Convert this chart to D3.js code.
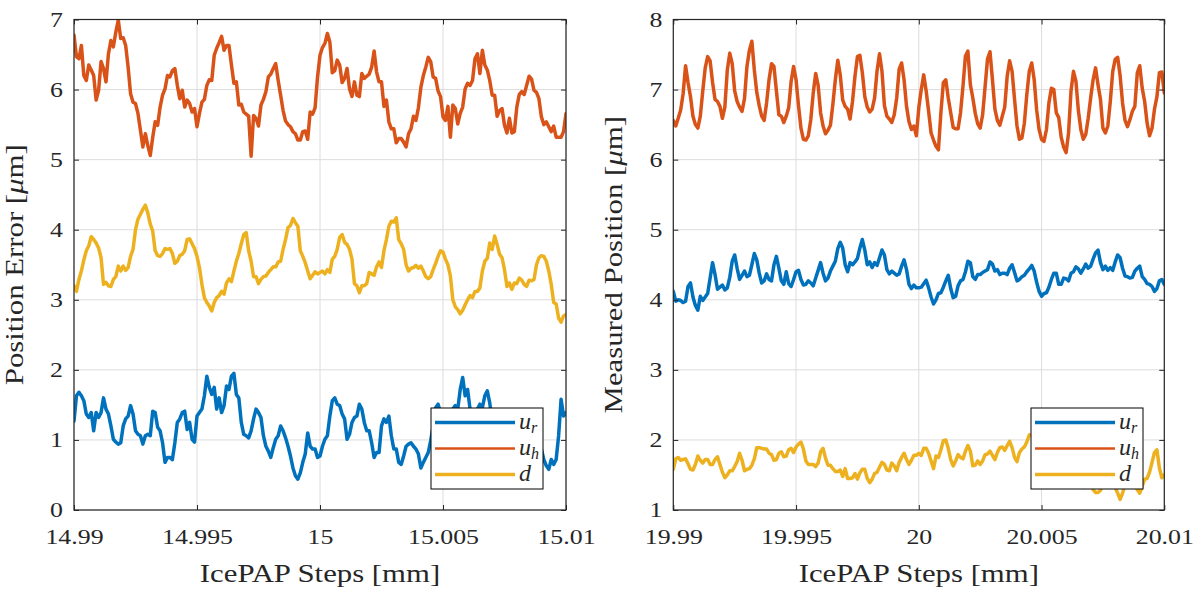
<!DOCTYPE html>
<html>
<head>
<meta charset="utf-8">
<script src="https://cdn.jsdelivr.net/npm/d3@7"></script>
<style>
  html, body { margin: 0; padding: 0; background: #fff; }
  svg text { font-family: "Liberation Serif", "Times New Roman", serif; fill: #262626; }
</style>
</head>
<body>
<svg id="chart" width="1203" height="596"></svg>
<script>
// ---------------- DATA ----------------
const seriesNames = ["u_r", "u_h", "d"];
const seriesColors = ["#0072BD", "#D95319", "#EDB120"];
const sampleStep = 0.0001; // mm between samples

// Left panel: Position Error [um] vs IcePAP Steps [mm]
const leftStart = 14.99;
const leftXTicks = [14.99, 14.995, 15, 15.005, 15.01];
const leftXTickLabels = ["14.99", "14.995", "15", "15.005", "15.01"];
const leftYTicks = [0, 1, 2, 3, 4, 5, 6, 7];
const leftUr = [1.27,1.63,1.68,1.63,1.56,1.37,1.32,1.39,1.13,1.39,1.32,1.39,1.60,1.44,1.37,1.20,1.01,0.97,0.94,0.96,
1.20,1.30,1.34,1.49,1.37,1.13,1.08,1.06,0.94,1.06,1.08,1.06,1.41,1.39,1.18,1.13,0.96,0.68,0.75,0.75,
0.72,0.96,1.25,1.30,1.39,1.41,1.15,1.25,1.01,0.97,1.34,1.39,1.44,1.63,1.91,1.75,1.65,1.75,1.44,1.60,
1.39,1.49,1.77,1.72,1.91,1.95,1.65,1.60,1.25,1.08,1.06,1.03,1.13,1.30,1.44,1.39,1.32,1.06,0.91,0.84,
0.75,0.89,1.01,1.06,1.20,1.13,1.03,0.91,0.77,0.60,0.49,0.44,0.53,0.68,0.80,1.10,0.91,0.87,0.87,0.75,
0.77,0.91,1.01,1.06,1.34,1.56,1.60,1.51,1.49,1.37,1.30,1.01,1.08,1.25,1.32,1.34,1.51,1.44,1.25,1.13,
1.13,0.96,0.75,0.82,0.82,1.20,1.30,1.25,1.34,1.06,0.87,0.87,0.68,0.65,0.77,0.91,0.94,0.96,0.91,0.87,
0.80,0.60,0.68,0.75,0.82,0.99,1.20,1.46,1.51,1.39,1.25,1.15,1.25,1.34,1.44,1.49,1.44,1.72,1.89,1.63,
1.72,1.44,1.25,1.34,1.44,1.51,1.46,1.63,1.70,1.53,1.25,1.06,0.96,1.06,1.15,1.06,0.87,0.77,0.87,1.01,
1.06,0.96,0.82,0.87,0.96,0.99,0.91,0.82,0.87,0.91,0.87,0.72,0.63,0.58,0.72,0.65,0.72,1.06,1.58,1.34,1.39];
const leftUh = [6.78,6.47,6.44,6.63,6.20,6.13,6.35,6.28,6.20,5.85,5.99,6.40,6.30,6.11,6.51,6.70,6.61,6.82,6.99,6.73,
6.74,6.63,6.32,5.94,5.82,5.80,5.66,5.42,5.18,5.37,5.20,5.06,5.32,5.54,5.49,5.75,5.92,6.01,6.20,6.18,
6.27,6.30,6.06,5.87,5.99,5.75,5.85,5.80,5.68,5.73,5.47,5.66,5.82,5.86,6.06,6.14,6.13,6.49,6.59,6.67,
6.76,6.56,6.63,6.63,6.35,6.09,6.11,5.78,5.79,5.68,5.65,5.62,5.05,5.63,5.59,5.48,5.78,5.86,5.97,6.18,
6.22,6.30,6.37,6.13,5.92,5.70,5.55,5.50,5.47,5.40,5.37,5.28,5.28,5.40,5.41,5.29,5.68,5.65,5.74,6.18,
6.49,6.60,6.66,6.80,6.68,6.24,6.27,6.42,6.35,6.10,6.16,6.30,6.01,5.90,6.11,5.92,5.90,6.23,6.16,6.19,
6.22,6.32,6.55,6.25,6.11,6.11,5.76,5.85,5.54,5.44,5.44,5.24,5.30,5.30,5.25,5.18,5.37,5.44,5.62,5.56,
5.74,6.03,6.20,6.32,6.46,6.40,6.18,6.16,5.98,5.90,5.61,5.56,5.76,5.32,5.78,5.73,5.51,5.66,5.75,6.01,
6.09,6.06,6.13,6.44,6.51,6.23,6.56,6.35,6.28,6.13,5.92,5.92,5.62,5.70,5.73,5.49,5.38,5.59,5.38,5.40,
5.75,5.93,5.97,5.93,6.06,6.19,6.15,5.99,5.96,5.87,5.61,5.50,5.54,5.47,5.40,5.48,5.32,5.32,5.32,5.40,5.66];
const leftD = [3.20,3.12,3.29,3.41,3.57,3.70,3.77,3.90,3.86,3.81,3.74,3.60,3.22,3.25,3.20,3.19,3.29,3.33,3.48,3.41,
3.48,3.42,3.46,3.62,3.72,4.00,4.15,4.22,4.29,4.35,4.24,4.08,3.98,3.70,3.63,3.62,3.66,3.73,3.72,3.73,
3.66,3.52,3.55,3.63,3.65,3.70,3.86,3.87,3.80,3.73,3.62,3.46,3.22,3.03,2.96,2.91,2.84,2.96,3.03,3.06,
3.12,3.08,3.24,3.30,3.26,3.41,3.55,3.66,3.80,3.93,3.96,3.70,3.55,3.33,3.33,3.23,3.29,3.33,3.34,3.39,
3.43,3.47,3.47,3.54,3.55,3.72,3.86,4.03,4.06,4.16,4.10,4.05,3.70,3.62,3.53,3.41,3.30,3.35,3.40,3.37,
3.39,3.41,3.37,3.43,3.39,3.58,3.62,3.72,3.89,3.93,3.82,3.79,3.72,3.58,3.23,3.20,3.10,3.20,3.20,3.23,
3.39,3.37,3.35,3.47,3.54,3.46,3.70,3.86,4.05,4.12,4.11,4.17,3.86,3.80,3.72,3.50,3.41,3.45,3.46,3.49,
3.45,3.48,3.41,3.33,3.30,3.33,3.43,3.52,3.62,3.70,3.68,3.58,3.50,3.34,3.00,2.90,2.86,2.80,2.85,2.93,
3.00,3.06,3.03,3.12,3.12,3.17,3.41,3.55,3.59,3.81,3.72,3.91,3.79,3.65,3.60,3.43,3.19,3.24,3.15,3.24,
3.23,3.31,3.28,3.22,3.19,3.28,3.27,3.29,3.50,3.60,3.63,3.62,3.55,3.41,3.22,2.96,2.94,2.74,2.68,2.77,2.79];

// Right panel: Measured Position [um] vs IcePAP Steps [mm]
const rightStart = 19.99;
const rightXTicks = [19.99, 19.995, 20, 20.005, 20.01];
const rightXTickLabels = ["19.99", "19.995", "20", "20.005", "20.01"];
const rightYTicks = [1, 2, 3, 4, 5, 6, 7, 8];
const rightUr = [4.12,3.98,4.00,3.99,3.96,3.98,4.19,4.24,4.04,3.92,3.85,4.05,3.99,4.04,4.09,4.31,4.53,4.36,4.15,4.18,
4.21,4.14,4.17,4.32,4.55,4.64,4.45,4.29,4.35,4.41,4.33,4.35,4.50,4.66,4.57,4.38,4.24,4.27,4.37,4.29,
4.27,4.50,4.62,4.45,4.27,4.22,4.40,4.23,4.19,4.29,4.40,4.42,4.29,4.21,4.22,4.27,4.24,4.20,4.31,4.42,
4.53,4.38,4.27,4.31,4.41,4.48,4.55,4.73,4.82,4.74,4.50,4.40,4.53,4.50,4.54,4.59,4.74,4.86,4.71,4.50,
4.54,4.46,4.53,4.49,4.60,4.71,4.64,4.43,4.37,4.41,4.38,4.35,4.37,4.48,4.57,4.43,4.22,4.16,4.21,4.17,
4.17,4.18,4.23,4.28,4.17,4.04,3.94,4.00,4.09,4.10,4.18,4.27,4.35,4.16,4.03,4.05,4.20,4.27,4.29,4.40,
4.55,4.53,4.33,4.29,4.36,4.36,4.39,4.41,4.43,4.54,4.51,4.41,4.43,4.36,4.38,4.38,4.36,4.45,4.50,4.39,
4.27,4.29,4.33,4.35,4.40,4.44,4.49,4.41,4.25,4.12,4.05,4.09,4.10,4.18,4.29,4.38,4.38,4.22,4.22,4.31,
4.30,4.27,4.38,4.40,4.47,4.44,4.38,4.44,4.51,4.45,4.48,4.58,4.67,4.71,4.53,4.43,4.48,4.42,4.46,4.42,
4.54,4.64,4.60,4.45,4.34,4.33,4.31,4.32,4.41,4.45,4.48,4.33,4.29,4.23,4.22,4.19,4.12,4.16,4.27,4.29,4.22];
const rightUh = [6.56,6.48,6.59,6.71,6.94,7.34,7.10,6.90,6.62,6.50,6.45,6.62,6.98,7.31,7.47,7.41,7.10,6.86,6.83,6.76,
6.59,6.75,7.28,7.52,7.37,6.98,6.83,6.75,6.69,6.87,7.33,7.56,7.69,7.28,6.96,6.77,6.62,6.56,6.81,7.14,
7.37,7.33,6.98,6.64,6.62,6.53,6.62,6.74,7.12,7.33,7.14,6.77,6.45,6.29,6.28,6.34,6.57,6.95,7.23,7.06,
6.67,6.48,6.37,6.42,6.49,6.79,7.14,7.42,7.21,6.85,6.76,6.72,6.58,6.83,7.19,7.47,7.49,7.24,6.90,6.75,
6.68,6.72,6.88,7.27,7.51,7.26,6.77,6.62,6.58,6.53,6.64,6.88,7.29,7.38,7.14,6.76,6.54,6.43,6.48,6.34,
6.74,7.00,7.21,6.98,6.69,6.38,6.28,6.19,6.14,6.67,7.10,7.14,6.88,6.67,6.46,6.44,6.44,6.67,7.05,7.48,
7.55,7.07,6.88,6.66,6.51,6.45,6.64,7.04,7.44,7.54,7.14,6.72,6.56,6.49,6.62,6.75,7.19,7.41,7.26,6.86,
6.48,6.29,6.31,6.52,6.93,7.26,7.38,7.14,6.71,6.43,6.29,6.26,6.43,6.81,7.02,7.00,6.67,6.60,6.32,6.18,
6.10,6.38,6.98,7.26,7.12,6.70,6.43,6.29,6.36,6.59,6.88,7.14,7.31,7.07,6.86,6.45,6.38,6.48,6.83,7.26,
7.43,7.46,7.20,6.81,6.56,6.47,6.57,6.69,6.76,7.24,7.34,7.02,6.83,6.52,6.34,6.45,6.72,6.90,7.24,7.25,6.95];
const rightD = [1.58,1.73,1.75,1.71,1.72,1.73,1.66,1.58,1.57,1.65,1.77,1.71,1.67,1.72,1.72,1.65,1.65,1.72,1.76,1.65,
1.54,1.46,1.50,1.56,1.56,1.62,1.69,1.81,1.71,1.56,1.58,1.59,1.64,1.73,1.89,1.89,1.88,1.87,1.87,1.81,
1.79,1.71,1.72,1.81,1.83,1.76,1.77,1.86,1.88,1.82,1.90,1.94,1.97,1.87,1.70,1.65,1.65,1.65,1.62,1.67,
1.83,1.88,1.74,1.64,1.64,1.59,1.55,1.55,1.57,1.48,1.59,1.45,1.45,1.46,1.52,1.44,1.53,1.58,1.58,1.45,
1.39,1.44,1.52,1.54,1.61,1.68,1.65,1.57,1.56,1.67,1.63,1.56,1.68,1.75,1.81,1.72,1.65,1.71,1.78,1.78,
1.81,1.78,1.88,1.88,1.81,1.70,1.59,1.77,1.75,1.86,1.99,2.00,1.88,1.72,1.63,1.70,1.79,1.75,1.73,1.84,
1.92,1.84,1.63,1.64,1.70,1.65,1.70,1.79,1.80,1.84,1.78,1.72,1.82,1.89,1.90,1.85,1.92,1.98,1.89,1.75,
1.69,1.82,1.87,1.90,1.97,2.07,2.08,2.01,1.87,1.77,1.82,1.67,1.58,1.67,1.75,1.63,1.48,1.53,1.63,1.67,
1.56,1.44,1.39,1.48,1.56,1.51,1.39,1.32,1.39,1.44,1.36,1.29,1.25,1.25,1.28,1.36,1.41,1.39,1.36,1.39,
1.32,1.24,1.15,1.24,1.36,1.41,1.39,1.36,1.34,1.29,1.24,1.34,1.44,1.45,1.54,1.68,1.82,1.86,1.60,1.46,1.50];

// ---------------- DRAWING ----------------
const svg = d3.select("#chart");
const axisColor = "#262626";
const gridColor = "#dcdcdc";
const serif = '"Liberation Serif", "Times New Roman", serif';
const widen = 1.23; // Computer Modern is wider than Times

function stretch(sel) {
  sel.each(function () {
    const L = this.getComputedTextLength();
    if (L > 0) d3.select(this).attr("textLength", L * widen).attr("lengthAdjust", "spacingAndGlyphs");
  });
}

const panels = [
  { id: "L", left: 74, right: 566, top: 19.5, bottom: 510,
    start: leftStart, xDomain: [14.99, 15.01], yDomain: [0, 7],
    xTicks: leftXTicks, xLabels: leftXTickLabels, yTicks: leftYTicks,
    series: [leftUr, leftUh, leftD], ylabel: "Position Error [", legend: [431, 408] },
  { id: "R", left: 673.3, right: 1164.3, top: 19.5, bottom: 510,
    start: rightStart, xDomain: [19.99, 20.01], yDomain: [1, 8],
    xTicks: rightXTicks, xLabels: rightXTickLabels, yTicks: rightYTicks,
    series: [rightUr, rightUh, rightD], ylabel: "Measured Position [", legend: [1031, 408] }
];

panels.forEach(p => {
  const x = d3.scaleLinear().domain(p.xDomain).range([p.left, p.right]);
  const y = d3.scaleLinear().domain(p.yDomain).range([p.bottom, p.top]);
  const g = svg.append("g");

  svg.append("clipPath").attr("id", "clip" + p.id)
    .append("rect").attr("x", p.left).attr("y", p.top)
    .attr("width", p.right - p.left).attr("height", p.bottom - p.top);

  // grid
  g.selectAll(".gx").data(p.xTicks).enter().append("line")
    .attr("x1", d => x(d)).attr("x2", d => x(d))
    .attr("y1", p.top).attr("y2", p.bottom)
    .attr("stroke", gridColor).attr("stroke-width", 1);
  g.selectAll(".gy").data(p.yTicks).enter().append("line")
    .attr("x1", p.left).attr("x2", p.right)
    .attr("y1", d => y(d)).attr("y2", d => y(d))
    .attr("stroke", gridColor).attr("stroke-width", 1);

  // lines
  const line = d3.line()
    .x((d, i) => x(p.start + i * sampleStep))
    .y(d => y(d));
  const lg = g.append("g").attr("clip-path", `url(#clip${p.id})`);
  p.series.forEach((s, k) => {
    lg.append("path").datum(s)
      .attr("d", line)
      .attr("fill", "none")
      .attr("stroke", seriesColors[k])
      .attr("stroke-width", 3.5)
      .attr("stroke-linejoin", "round")
      .attr("stroke-linecap", "round");
  });

  // axes (inward ticks on all sides)
  const tickLen = 5;
  const axB = d3.axisBottom(x).tickValues(p.xTicks).tickFormat((d, i) => p.xLabels[i]).tickSizeInner(-tickLen).tickSizeOuter(0).tickPadding(14);
  const axT = d3.axisTop(x).tickValues(p.xTicks).tickFormat("").tickSizeInner(-tickLen).tickSizeOuter(0);
  const axL = d3.axisLeft(y).tickValues(p.yTicks).tickFormat(d3.format("d")).tickSizeInner(-tickLen).tickSizeOuter(0).tickPadding(11);
  const axR = d3.axisRight(y).tickValues(p.yTicks).tickFormat("").tickSizeInner(-tickLen).tickSizeOuter(0);

  const styleAxis = sel => {
    sel.attr("font-family", serif);
    sel.select(".domain").remove();
    sel.selectAll("line").attr("stroke", axisColor).attr("stroke-width", 1);
    sel.selectAll("text").attr("fill", axisColor)
      .attr("font-family", serif).style("font-family", serif).style("font-size", "21px");
  };
  g.append("g").attr("transform", `translate(0,${p.bottom})`).call(axB).call(styleAxis)
    .selectAll("text").attr("dy", "0.95em").call(stretch);
  g.append("g").attr("transform", `translate(0,${p.top})`).call(axT).call(styleAxis);
  g.append("g").attr("transform", `translate(${p.left},0)`).call(axL).call(styleAxis)
    .selectAll("text").call(stretch);
  g.append("g").attr("transform", `translate(${p.right},0)`).call(axR).call(styleAxis);

  // box
  g.append("rect").attr("x", p.left).attr("y", p.top)
    .attr("width", p.right - p.left).attr("height", p.bottom - p.top)
    .attr("fill", "none").attr("stroke", axisColor).attr("stroke-width", 1.2);

  // x label
  g.append("text").attr("x", (p.left + p.right) / 2).attr("y", 582)
    .attr("text-anchor", "middle").style("font-family", serif).style("font-size", "25px")
    .text("IcePAP Steps [mm]").call(stretch);

  // y label
  const yl = g.append("text")
    .attr("transform", `translate(${p.left - 51},${(p.top + p.bottom) / 2}) rotate(-90)`)
    .attr("text-anchor", "middle").style("font-family", serif).style("font-size", "25px");
  yl.append("tspan").text(p.ylabel);
  yl.append("tspan").style("font-style", "italic").text("\u03bc");
  yl.append("tspan").text("m]");
  yl.call(stretch);

  // legend
  const [lx, ly] = p.legend;
  const leg = g.append("g");
  leg.append("rect").attr("x", lx).attr("y", ly).attr("width", 112).attr("height", 81)
    .attr("fill", "#fff").attr("stroke", "#000").attr("stroke-width", 1);
  const labels = [["u", "r"], ["u", "h"], ["d", ""]];
  const rowY = [14.5, 40.5, 66.5];
  labels.forEach((lab, k) => {
    leg.append("line")
      .attr("x1", lx + 4).attr("x2", lx + 84)
      .attr("y1", ly + rowY[k]).attr("y2", ly + rowY[k])
      .attr("stroke", seriesColors[k]).attr("stroke-width", k === 1 ? 2.5 : 3.5);
    const t = leg.append("text").attr("x", lx + 88).attr("y", ly + rowY[k] + 6)
      .style("font-family", serif).style("font-size", "24px").style("font-style", "italic");
    t.append("tspan").text(lab[0]);
    if (lab[1]) t.append("tspan").attr("dy", 4).style("font-size", "16px").text(lab[1]);
  });
});
</script>
</body>
</html>
